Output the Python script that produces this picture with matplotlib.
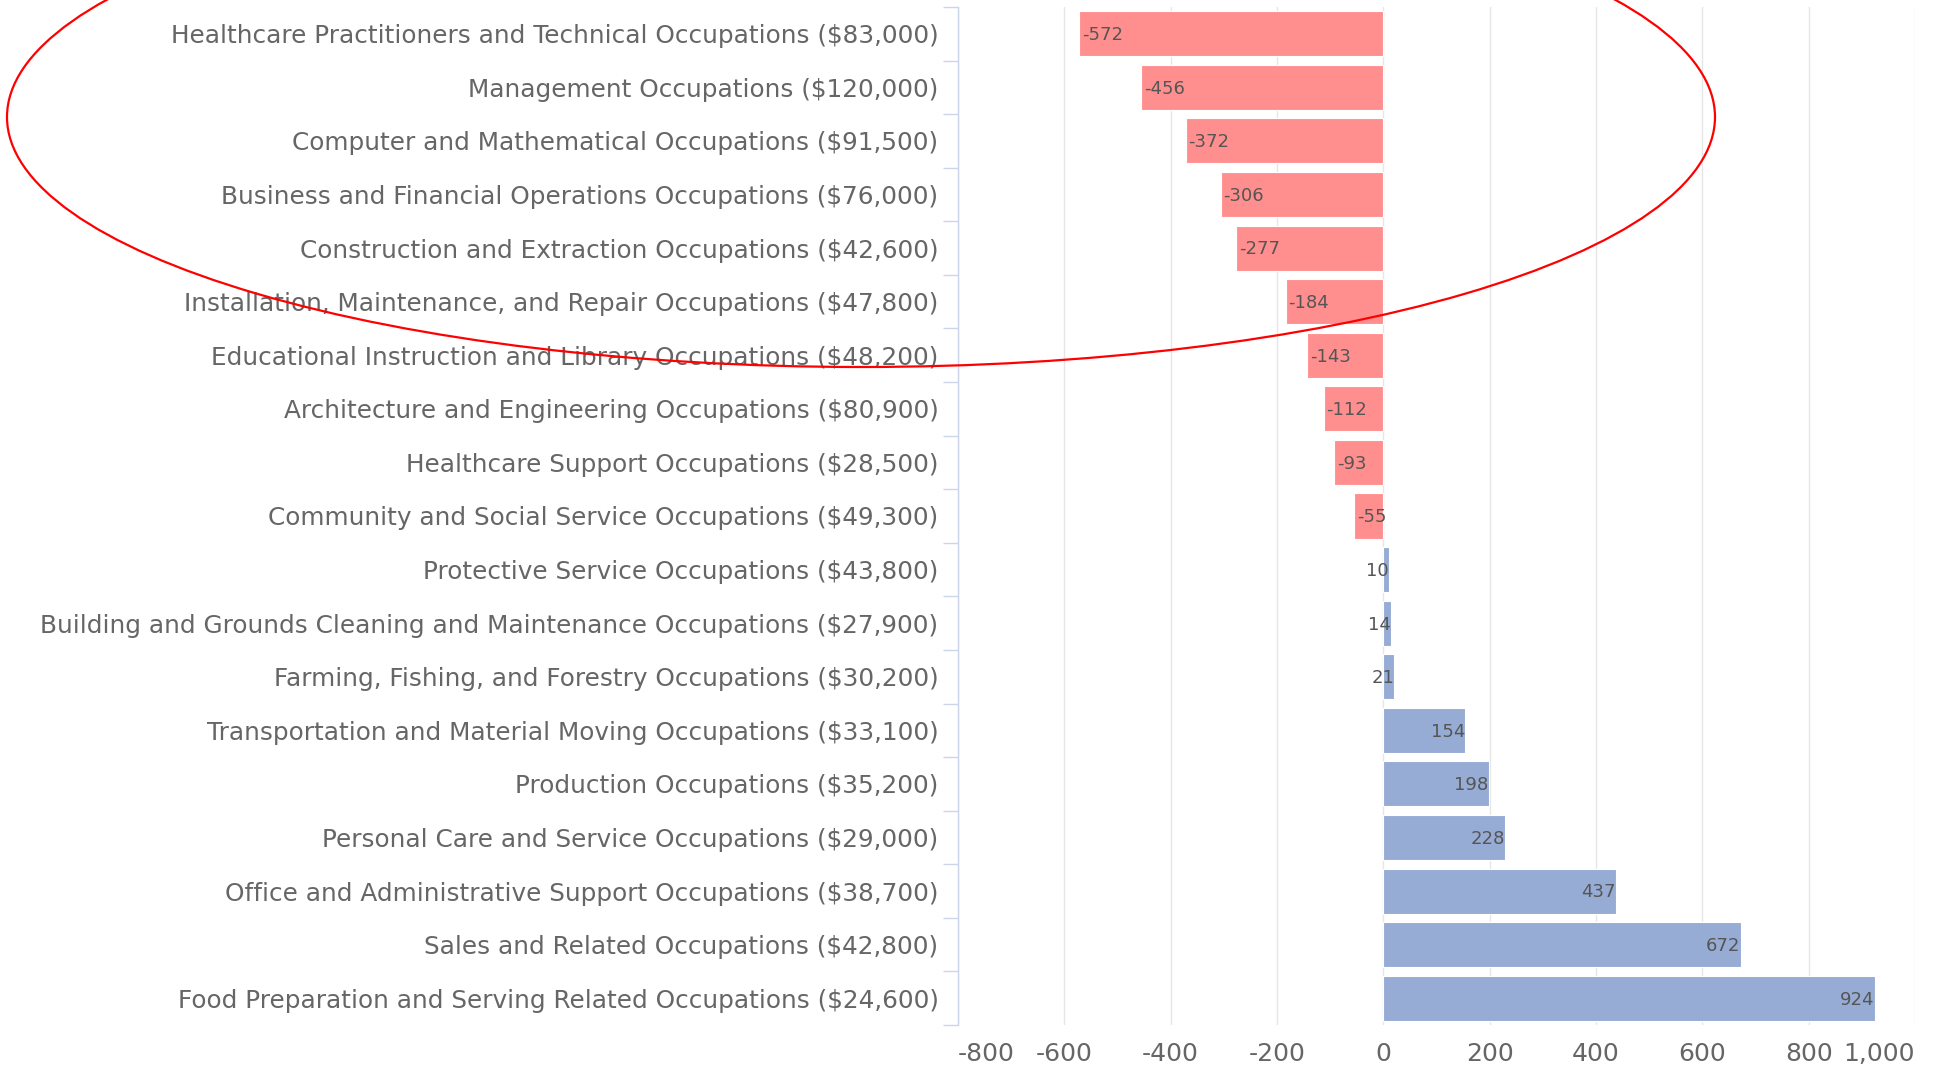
import matplotlib
matplotlib.use('Agg')
import matplotlib.pyplot as plt
from matplotlib.patches import Ellipse
from matplotlib.ticker import FixedLocator

occupations = [
    'Healthcare Practitioners and Technical Occupations ($83,000)',
    'Management Occupations ($120,000)',
    'Computer and Mathematical Occupations ($91,500)',
    'Business and Financial Operations Occupations ($76,000)',
    'Construction and Extraction Occupations ($42,600)',
    'Installation, Maintenance, and Repair Occupations ($47,800)',
    'Educational Instruction and Library Occupations ($48,200)',
    'Architecture and Engineering Occupations ($80,900)',
    'Healthcare Support Occupations ($28,500)',
    'Community and Social Service Occupations ($49,300)',
    'Protective Service Occupations ($43,800)',
    'Building and Grounds Cleaning and Maintenance Occupations ($27,900)',
    'Farming, Fishing, and Forestry Occupations ($30,200)',
    'Transportation and Material Moving Occupations ($33,100)',
    'Production Occupations ($35,200)',
    'Personal Care and Service Occupations ($29,000)',
    'Office and Administrative Support Occupations ($38,700)',
    'Sales and Related Occupations ($42,800)',
    'Food Preparation and Serving Related Occupations ($24,600)',
]
values = [-572, -456, -372, -306, -277, -184, -143, -112, -93, -55,
          10, 14, 21, 154, 198, 228, 437, 672, 924]
x_ticks = [-800, -600, -400, -200, 0, 200, 400, 600, 800, 1000]

RED = '#ff8f8f'
BLUE = '#97acd4'
TEXT = '#666666'
AXIS = '#ccd6eb'
GRID = '#e6e6e6'

W, H = 1937, 1070
fig = plt.figure(figsize=(W / 100, H / 100), dpi=100)
ax = fig.add_axes([958 / W, 1 - 1025 / H, (1915 - 958) / W, (1025 - 7) / H])

ypos = list(range(len(values)))
colors = [RED if v < 0 else BLUE for v in values]
ax.barh(ypos, values, height=0.84, color=colors, edgecolor='white',
        linewidth=0.8, zorder=2)

# data labels: inside the bar at its outer end
for y, v in zip(ypos, values):
    if v < 0:
        ax.annotate(str(v), (v, y), xytext=(2, -1), textcoords='offset points',
                    ha='left', va='center', fontsize=13, color='#555555', zorder=3)
    else:
        ax.annotate(str(v), (v, y), xytext=(0, -1), textcoords='offset points',
                    ha='right', va='center', fontsize=13, color='#555555', zorder=3)

ax.set_xlim(-800, 1000)
ax.set_ylim(len(values) - 0.5, -0.5)

ax.set_xticks(x_ticks)
ax.set_xticklabels([f'{t:,}' for t in x_ticks])
ax.tick_params(axis='x', length=0, pad=12, labelsize=18, labelcolor=TEXT)
labels = ax.get_xticklabels()
labels[0].set_ha('left')
labels[-1].set_ha('right')
ax.grid(axis='x', color=GRID, linewidth=1, zorder=0)

ax.set_yticks(ypos)
ax.set_yticklabels(occupations)
ax.tick_params(axis='y', which='major', length=0, pad=14, labelsize=17.8, labelcolor=TEXT)
ax.yaxis.set_minor_locator(FixedLocator([i - 0.5 for i in range(len(values) + 1)]))
ax.tick_params(axis='y', which='minor', length=11, width=1, color=AXIS)

for side in ['top', 'right', 'bottom']:
    ax.spines[side].set_visible(False)
ax.spines['left'].set_color(AXIS)
ax.spines['left'].set_linewidth(1)

# red highlight around the top categories
ell = Ellipse((861 / W, 1 - 117 / H), width=1708 / W, height=500 / H,
              transform=fig.transFigure, fill=False, edgecolor='red',
              linewidth=1.6, zorder=10)
fig.add_artist(ell)

fig.savefig('out.png', dpi=100, facecolor='white')
